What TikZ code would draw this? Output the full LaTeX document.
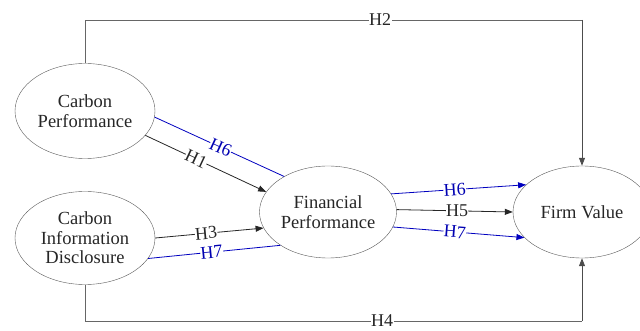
\documentclass[tikz,border=0pt]{standalone}
\usepackage{fontspec}
\setmainfont{Liberation Serif}
\usetikzlibrary{arrows.meta,positioning,shapes.geometric}

\begin{document}
\begin{tikzpicture}[
    x=1pt, y=-1pt,
    construct/.style={draw=black!65, ellipse, inner sep=0pt, align=center, text=black!85,
      font=\fontsize{18.5}{19.5}\selectfont},
    arrow/.style={-{Triangle[length=8pt,width=6pt]}, line width=0.8pt, black!85},
    frame/.style={line width=0.8pt, black!60},
    blueline/.style={line width=0.8pt, blue!75!black},
    hyp/.style={fill=white, inner sep=0.3pt, font=\fontsize{18}{19}\selectfont, text=black!85},
    bluehyp/.style={hyp, text=blue!70!black}
  ]
    \useasboundingbox (0,0) rectangle (640,331);
    \node[construct, minimum width=140pt, minimum height=95pt] (cp) at (85,111) {Carbon\\Performance};
    \node[construct, minimum width=140pt, minimum height=93pt] (cid) at (85,238) {Carbon\\Information\\Disclosure};
    \node[construct, minimum width=137pt, minimum height=92pt] (fp) at (328,212) {Financial\\Performance};
    \node[construct, minimum width=138pt, minimum height=92pt] (fv) at (582,212) {Firm Value};
    \coordinate (tl) at (85,20);
    \coordinate (tr) at (582,20);
    \coordinate (bl) at (85,321);
    \coordinate (br) at (582,321);
    % outer paths
    \draw[frame] (cp.north) -- (tl) -- node[hyp, pos=0.594] {H2} (tr);
    \draw[arrow, black!70] (tr) -- (fv.north);
    \draw[frame] (cid.south) -- (bl) -- node[hyp, pos=0.598] {H4} (br);
    \draw[arrow, black!70] (br) -- (fv.south);
    % into financial performance
    \draw[blueline] (cp.-5) -- node[bluehyp, sloped, pos=0.51] {H6} (fp.141);
    \draw[arrow] (cp.-22) -- node[hyp, sloped, pos=0.42] {H1} (fp.162);
    \draw[arrow] (cid.0) -- node[hyp, sloped, pos=0.47] {H3} (fp.194);
    \draw[blueline] (cid.-18) -- node[bluehyp, sloped, pos=0.48] {H7} (fp.215);
    % into firm value
    \draw[arrow, blue!75!black] (fp.16) -- node[bluehyp, sloped, pos=0.47] {H6} (fv.154);
    \draw[arrow] (fp.2) -- node[hyp, pos=0.52] {H5} (fv.180);
    \draw[arrow, blue!75!black] (fp.-13) -- node[bluehyp, sloped, pos=0.47] {H7} (fv.204);
  \end{tikzpicture}
\end{document}
